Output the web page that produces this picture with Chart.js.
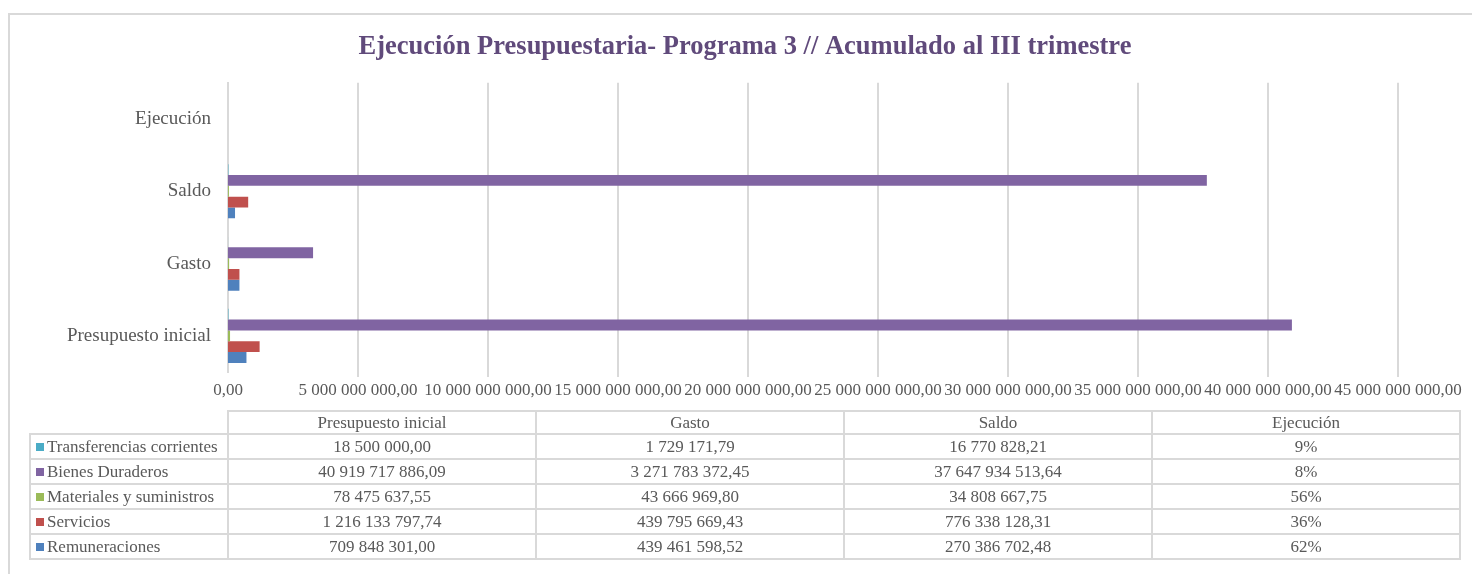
<!DOCTYPE html>
<html>
<head>
<meta charset="utf-8">
<script src="https://cdn.jsdelivr.net/npm/chart.js@4/dist/chart.umd.min.js"></script>
<style>
html,body{margin:0;padding:0;background:#fff;width:1472px;height:574px;overflow:hidden;position:relative;}
#frame{position:absolute;left:8px;top:13px;width:1500px;height:600px;border-top:2px solid #d9d9d9;border-left:2px solid #d9d9d9;}
#wrap{position:absolute;left:0;top:0;width:1472px;height:574px;}
#tbl{position:absolute;left:29px;top:410px;border-collapse:collapse;table-layout:fixed;width:1432px;
  font-family:'Liberation Serif','Times New Roman',serif;font-size:17px;color:#595959;}
#tbl td,#tbl th{border:2px solid #d9d9d9;padding:0;text-align:center;font-weight:normal;white-space:nowrap;overflow:hidden;line-height:20px;}
#tbl tr.hd td,#tbl tr.hd th{height:20px;padding-top:1px;}
#tbl tr.rw td{height:23px;}
#tbl th.corner{border:none;}
#tbl td.lg{text-align:left;}
.mk{display:inline-block;width:8px;height:8px;margin:0 3px 0 5px;vertical-align:1px;}
</style>
</head>
<body>
<div id="frame"></div>
<div id="wrap"><canvas id="c" width="1472" height="574"></canvas></div>
<table id="tbl"><colgroup><col style="width:198px"><col style="width:308px"><col style="width:308px"><col style="width:308px"><col style="width:308px"></colgroup><tbody id="tb"></tbody></table>
<script>
// ---- data ----
const titleText = 'Ejecución Presupuestaria- Programa 3 // Acumulado al III trimestre';
const categories = ['Presupuesto inicial', 'Gasto', 'Saldo', 'Ejecución'];
const seriesNames = ['Remuneraciones', 'Servicios', 'Materiales y suministros', 'Bienes Duraderos', 'Transferencias corrientes'];
const remuneraciones = [709848301.00, 439461598.52, 270386702.48, 0.62];
const servicios = [1216133797.74, 439795669.43, 776338128.31, 0.36];
const materiales = [78475637.55, 43666969.80, 34808667.75, 0.56];
const bienesDuraderos = [40919717886.09, 3271783372.45, 37647934513.64, 0.08];
const transferencias = [18500000.00, 1729171.79, 16770828.21, 0.09];
const seriesColors = ['#4f81bd', '#c0504d', '#9bbb59', '#8064a2', '#4bacc6'];
const xTickMax = 45000000000;
const xTickStep = 5000000000;

const seriesValues = [remuneraciones, servicios, materiales, bienesDuraderos, transferencias];

function fmt(v) {
  const s = Number(v).toFixed(2);
  const parts = s.split('.');
  return parts[0].replace(/\B(?=(\d{3})+(?!\d))/g, ' ') + ',' + parts[1];
}
function pct(v) { return Math.round(v * 100) + '%'; }

// ---- chart (categories top-to-bottom, series top-to-bottom as in reference) ----
const revCats = categories.slice().reverse();
const datasets = [];
for (let i = seriesNames.length - 1; i >= 0; i--) {
  datasets.push({
    label: seriesNames[i],
    data: seriesValues[i].slice().reverse(),
    backgroundColor: seriesColors[i],
    borderWidth: 0,
    inflateAmount: 0,
    categoryPercentage: 0.75,
    barPercentage: 1.0
  });
}

Chart.defaults.font.family = "'Liberation Serif','Times New Roman',serif";
Chart.defaults.color = '#595959';

new Chart(document.getElementById('c'), {
  type: 'bar',
  data: { labels: revCats, datasets: datasets },
  options: {
    indexAxis: 'y',
    responsive: false,
    animation: false,
    layout: { padding: { left: 18, right: 0, top: 0, bottom: 162 } },
    plugins: {
      legend: { display: false },
      tooltip: { enabled: false },
      title: {
        display: true, text: titleText, color: '#604a7b',
        font: { size: 26.5, weight: 'bold' },
        padding: { top: 31, bottom: 20 }
      }
    },
    scales: {
      x: {
        min: 0, max: xTickMax,
        ticks: {
          stepSize: xTickStep, autoSkip: false, maxRotation: 0, minRotation: 0,
          font: { size: 17 }, color: '#595959', padding: 3,
          callback: function (v) { return fmt(v); }
        },
        grid: {
          color: '#d9d9d9', tickLength: 5, drawTicks: true,
          lineWidth: function (ctx) { return (ctx.tick && ctx.tick.value === 0) ? 0 : 2; }
        },
        border: { display: false },
        afterFit: function (s) { s.height = 40; }
      },
      y: {
        ticks: { font: { size: 19 }, color: '#595959', padding: 17 },
        grid: { display: false, drawTicks: false },
        border: { display: true, color: '#d9d9d9', width: 2 },
        afterFit: function (s) { s.width = 210; }
      },
      yRight: {
        type: 'category', position: 'right', display: true,
        ticks: { display: false },
        grid: { display: false, drawTicks: false },
        border: { display: false },
        afterFit: function (s) { s.width = 74; }
      }
    }
  }
});

// ---- data table ----
const tb = document.getElementById('tb');
let html = '<tr class="hd"><th class="corner"></th>';
categories.forEach(function (c) { html += '<th>' + c + '</th>'; });
html += '</tr>';
for (let i = seriesNames.length - 1; i >= 0; i--) {
  const vals = seriesValues[i];
  html += '<tr class="rw"><td class="lg"><span class="mk" style="background:' + seriesColors[i] + '"></span>' + seriesNames[i] + '</td>';
  html += '<td>' + fmt(vals[0]) + '</td><td>' + fmt(vals[1]) + '</td><td>' + fmt(vals[2]) + '</td><td>' + pct(vals[3]) + '</td></tr>';
}
tb.innerHTML = html;
</script>
</body>
</html>
